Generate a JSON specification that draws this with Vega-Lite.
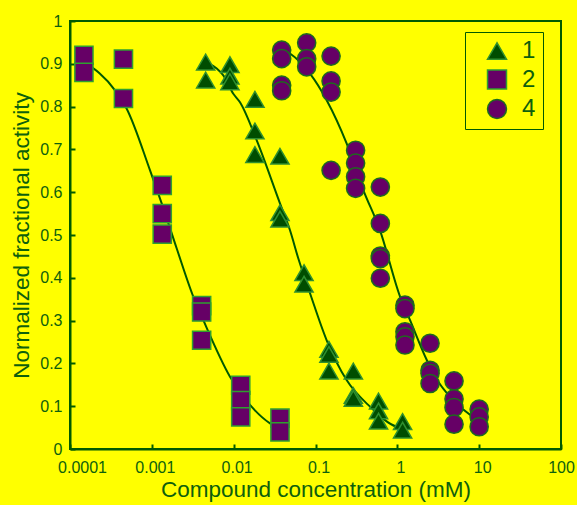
{
  "$schema": "https://vega.github.io/schema/vega-lite/v6.json",
  "autosize": {"type": "none"},
  "padding": {"left": 70, "top": 21, "right": 16, "bottom": 56},
  "width": 491,
  "height": 428,
  "background": "#ffff00",
  "config": {
    "view": {"stroke": "#005a00", "strokeWidth": 2},
    "font": "Liberation Sans",
    "axis": {
      "domainColor": "#005a00", "domainWidth": 2,
      "tickColor": "#005a00", "tickWidth": 2, "tickSize": -5,
      "labelColor": "#0d600d", "labelFontSize": 16, "labelFont": "Liberation Sans",
      "titleColor": "#0d600d", "titleFontSize": 22.5, "titleFont": "Liberation Sans", "titleFontWeight": "normal",
      "grid": false
    }
  },
  "datasets": {
    "pts": [
      {"compound": "2", "conc": 0.000148, "act": 0.92},
      {"compound": "2", "conc": 0.000148, "act": 0.88},
      {"compound": "2", "conc": 0.00045, "act": 0.911},
      {"compound": "2", "conc": 0.00045, "act": 0.819},
      {"compound": "2", "conc": 0.00134, "act": 0.616},
      {"compound": "2", "conc": 0.00134, "act": 0.55},
      {"compound": "2", "conc": 0.00134, "act": 0.502},
      {"compound": "2", "conc": 0.00406, "act": 0.335},
      {"compound": "2", "conc": 0.00406, "act": 0.32},
      {"compound": "2", "conc": 0.00406, "act": 0.254},
      {"compound": "2", "conc": 0.0122, "act": 0.149},
      {"compound": "2", "conc": 0.0122, "act": 0.113},
      {"compound": "2", "conc": 0.0122, "act": 0.075},
      {"compound": "2", "conc": 0.0368, "act": 0.072},
      {"compound": "2", "conc": 0.0368, "act": 0.04},
      {"compound": "1", "conc": 0.00455, "act": 0.904},
      {"compound": "1", "conc": 0.00455, "act": 0.862},
      {"compound": "1", "conc": 0.009, "act": 0.898},
      {"compound": "1", "conc": 0.009, "act": 0.871},
      {"compound": "1", "conc": 0.009, "act": 0.858},
      {"compound": "1", "conc": 0.0182, "act": 0.817},
      {"compound": "1", "conc": 0.0182, "act": 0.743},
      {"compound": "1", "conc": 0.0182, "act": 0.688},
      {"compound": "1", "conc": 0.0368, "act": 0.684},
      {"compound": "1", "conc": 0.0368, "act": 0.552},
      {"compound": "1", "conc": 0.0368, "act": 0.537},
      {"compound": "1", "conc": 0.0724, "act": 0.412},
      {"compound": "1", "conc": 0.0724, "act": 0.385},
      {"compound": "1", "conc": 0.146, "act": 0.233},
      {"compound": "1", "conc": 0.146, "act": 0.221},
      {"compound": "1", "conc": 0.146, "act": 0.182},
      {"compound": "1", "conc": 0.29, "act": 0.182},
      {"compound": "1", "conc": 0.29, "act": 0.125},
      {"compound": "1", "conc": 0.29, "act": 0.118},
      {"compound": "1", "conc": 0.589, "act": 0.112},
      {"compound": "1", "conc": 0.589, "act": 0.089},
      {"compound": "1", "conc": 0.589, "act": 0.065},
      {"compound": "1", "conc": 1.16, "act": 0.064},
      {"compound": "1", "conc": 1.16, "act": 0.044},
      {"compound": "4", "conc": 0.0386, "act": 0.932},
      {"compound": "4", "conc": 0.0386, "act": 0.912},
      {"compound": "4", "conc": 0.0386, "act": 0.85},
      {"compound": "4", "conc": 0.0386, "act": 0.837},
      {"compound": "4", "conc": 0.078, "act": 0.949},
      {"compound": "4", "conc": 0.078, "act": 0.912},
      {"compound": "4", "conc": 0.078, "act": 0.893},
      {"compound": "4", "conc": 0.155, "act": 0.918},
      {"compound": "4", "conc": 0.155, "act": 0.86},
      {"compound": "4", "conc": 0.155, "act": 0.834},
      {"compound": "4", "conc": 0.155, "act": 0.651},
      {"compound": "4", "conc": 0.309, "act": 0.698},
      {"compound": "4", "conc": 0.309, "act": 0.668},
      {"compound": "4", "conc": 0.309, "act": 0.636},
      {"compound": "4", "conc": 0.309, "act": 0.609},
      {"compound": "4", "conc": 0.62, "act": 0.612},
      {"compound": "4", "conc": 0.62, "act": 0.527},
      {"compound": "4", "conc": 0.62, "act": 0.451},
      {"compound": "4", "conc": 0.62, "act": 0.445},
      {"compound": "4", "conc": 0.62, "act": 0.399},
      {"compound": "4", "conc": 1.24, "act": 0.336},
      {"compound": "4", "conc": 1.24, "act": 0.328},
      {"compound": "4", "conc": 1.24, "act": 0.274},
      {"compound": "4", "conc": 1.24, "act": 0.262},
      {"compound": "4", "conc": 1.24, "act": 0.243},
      {"compound": "4", "conc": 2.51, "act": 0.247},
      {"compound": "4", "conc": 2.51, "act": 0.184},
      {"compound": "4", "conc": 2.51, "act": 0.177},
      {"compound": "4", "conc": 2.51, "act": 0.153},
      {"compound": "4", "conc": 4.93, "act": 0.159},
      {"compound": "4", "conc": 4.93, "act": 0.117},
      {"compound": "4", "conc": 4.93, "act": 0.097},
      {"compound": "4", "conc": 4.93, "act": 0.058},
      {"compound": "4", "conc": 10, "act": 0.093},
      {"compound": "4", "conc": 10, "act": 0.075},
      {"compound": "4", "conc": 10, "act": 0.052}
    ],
    "fits": [
      {"curve": "2", "conc": 0.000148, "act": 0.905},
      {"curve": "2", "conc": 0.000355, "act": 0.838},
      {"curve": "2", "conc": 0.000493, "act": 0.795},
      {"curve": "2", "conc": 0.000951, "act": 0.651},
      {"curve": "2", "conc": 0.00132, "act": 0.574},
      {"curve": "2", "conc": 0.00201, "act": 0.469},
      {"curve": "2", "conc": 0.00321, "act": 0.356},
      {"curve": "2", "conc": 0.00426, "act": 0.301},
      {"curve": "2", "conc": 0.00902, "act": 0.169},
      {"curve": "2", "conc": 0.01584, "act": 0.103},
      {"curve": "2", "conc": 0.0278, "act": 0.06},
      {"curve": "2", "conc": 0.0368, "act": 0.048},
      {"curve": "1", "conc": 0.00455, "act": 0.904},
      {"curve": "1", "conc": 0.00621, "act": 0.889},
      {"curve": "1", "conc": 0.00747, "act": 0.873},
      {"curve": "1", "conc": 0.0099, "act": 0.83},
      {"curve": "1", "conc": 0.01195, "act": 0.81},
      {"curve": "1", "conc": 0.01914, "act": 0.721},
      {"curve": "1", "conc": 0.0368, "act": 0.574},
      {"curve": "1", "conc": 0.0488, "act": 0.511},
      {"curve": "1", "conc": 0.0617, "act": 0.445},
      {"curve": "1", "conc": 0.0857, "act": 0.364},
      {"curve": "1", "conc": 0.137, "act": 0.254},
      {"curve": "1", "conc": 0.24, "act": 0.161},
      {"curve": "1", "conc": 0.463, "act": 0.099},
      {"curve": "1", "conc": 0.982, "act": 0.052},
      {"curve": "1", "conc": 1.17, "act": 0.049},
      {"curve": "4", "conc": 0.0387, "act": 0.935},
      {"curve": "4", "conc": 0.0488, "act": 0.924},
      {"curve": "4", "conc": 0.0857, "act": 0.877},
      {"curve": "4", "conc": 0.137, "act": 0.815},
      {"curve": "4", "conc": 0.24, "act": 0.714},
      {"curve": "4", "conc": 0.384, "act": 0.605},
      {"curve": "4", "conc": 0.614, "act": 0.511},
      {"curve": "4", "conc": 1.08, "act": 0.356},
      {"curve": "4", "conc": 1.43, "act": 0.301},
      {"curve": "4", "conc": 2.29, "act": 0.208},
      {"curve": "4", "conc": 3.17, "act": 0.157},
      {"curve": "4", "conc": 4.4, "act": 0.122},
      {"curve": "4", "conc": 10.2, "act": 0.064}
    ]
  },
  "encoding": {
    "x": {
      "field": "conc", "type": "quantitative",
      "scale": {"type": "log", "domain": [0.0001, 100], "nice": false},
      "axis": {
        "title": "Compound concentration (mM)",
        "values": [0.0001, 0.001, 0.01, 0.1, 1, 10, 100],
        "format": "~g",
        "labelFlush": false,
        "labelPadding": 15,
        "labelOffset": {"condition": [{"test": "datum.value < 0.0002", "value": 12}, {"test": "datum.value > 50", "value": 0}], "value": 3},
        "titlePadding": 3
      }
    },
    "y": {
      "field": "act", "type": "quantitative",
      "scale": {"domain": [0, 1], "nice": false, "zero": false},
      "axis": {
        "title": "Normalized fractional activity",
        "values": [0, 0.1, 0.2, 0.3, 0.4, 0.5, 0.6, 0.7, 0.8, 0.9, 1],
        "format": "~g",
        "labelPadding": 13,
        "titlePadding": 6
      }
    }
  },
  "layer": [
    {
      "data": {"name": "fits"},
      "mark": {"type": "line", "color": "#005a00", "strokeWidth": 2, "interpolate": "monotone"},
      "encoding": {"detail": {"field": "curve", "type": "nominal"}}
    },
    {
      "data": {"name": "pts"},
      "mark": {"type": "point", "filled": true, "opacity": 1, "size": 330, "strokeWidth": 1.5},
      "encoding": {
        "shape": {
          "field": "compound", "type": "nominal",
          "scale": {"domain": ["1", "2", "4"], "range": ["triangle-up", "square", "circle"]},
          "legend": {
            "title": null, "orient": "none", "legendX": 395, "legendY": 11,
            "strokeColor": "#005a00", "padding": 7, "symbolOffset": 13,
            "symbolSize": 360, "labelFontSize": 24, "labelColor": "#0d600d", "labelOffset": 13,
            "labelExpr": "datum.label + ' '",
            "rowPadding": 3.5, "symbolStrokeColor": "#1d6b1d", "symbolStrokeWidth": 1.5,
            "encode": {"legend": {"update": {"strokeWidth": {"value": 2}}}}
          }
        },
        "fill": {
          "field": "compound", "type": "nominal",
          "scale": {"domain": ["1", "2", "4"], "range": ["#004d00", "#660066", "#660066"]},
          "legend": {
            "title": null, "orient": "none", "legendX": 395, "legendY": 11,
            "strokeColor": "#005a00", "padding": 7, "symbolOffset": 13,
            "symbolSize": 360, "labelFontSize": 24, "labelColor": "#0d600d", "labelOffset": 13,
            "labelExpr": "datum.label + ' '",
            "rowPadding": 3.5, "symbolStrokeColor": "#1d6b1d", "symbolStrokeWidth": 1.5,
            "encode": {"legend": {"update": {"strokeWidth": {"value": 2}}}}
          }
        },
        "stroke": {
          "field": "compound", "type": "nominal",
          "scale": {"domain": ["1", "2", "4"], "range": ["#2f8f2f", "#2f9f2f", "#1d6b1d"]},
          "legend": null
        }
      }
    }
  ]
}
